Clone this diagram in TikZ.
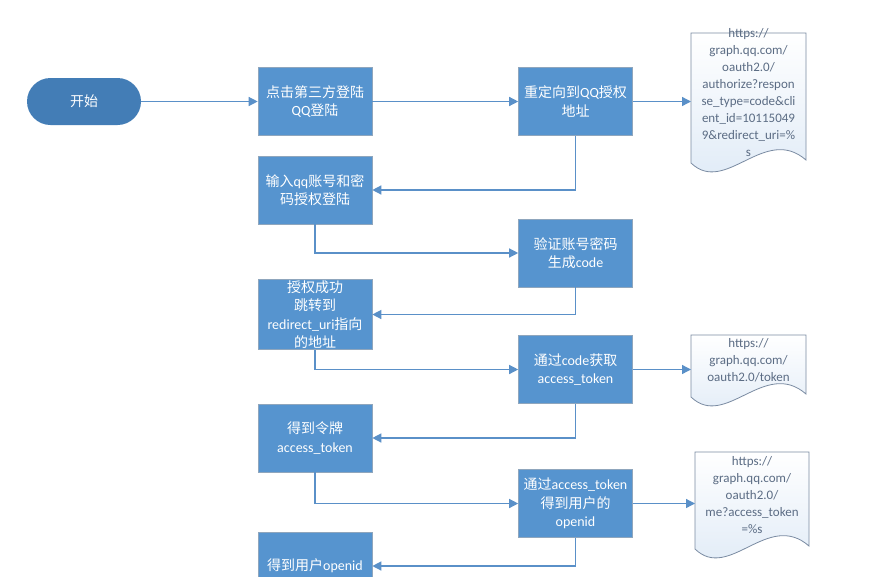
\documentclass[tikz,border=0pt]{standalone}
\usepackage{fontspec}
\setmainfont{Carlito}
\newfontfamily\zhfont{Noto Sans CJK SC}
\XeTeXinterchartokenstate=1
\newXeTeXintercharclass\zhclass
\makeatletter
\count@="4E00
\loop\ifnum\count@<"A000 \XeTeXcharclass\count@=\zhclass \advance\count@ by 1 \repeat
\makeatother
\XeTeXinterchartoks 0 \zhclass = {\zhfont}
\XeTeXinterchartoks 4095 \zhclass = {\zhfont}
\XeTeXinterchartoks \zhclass 0 = {\rmfamily}
\XeTeXinterchartoks \zhclass 4095 = {\rmfamily}
\usetikzlibrary{arrows.meta}
\definecolor{boxblue}{HTML}{5694CF}
\definecolor{boxedge}{HTML}{8FA6BD}
\definecolor{startblue}{HTML}{437DB6}
\definecolor{linkblue}{HTML}{5A90C8}
\definecolor{docblue}{HTML}{DDE9F6}
\definecolor{docedge}{HTML}{7A8BA2}
\definecolor{doctxt}{HTML}{5B6C84}
\newcommand{\mydoc}[5]{%
  \shade[top color=white, bottom color=docblue, draw=docedge, line width=0.8pt]
    (#1,#3) -- (#2,#3) -- (#2,#5)
    .. controls ({#1+0.64*(#2-#1)},{#5-36}) and ({#1+0.3*(#2-#1)},{#4+33}) .. (#1,#4) -- cycle;}
\begin{document}
\begin{tikzpicture}[x=1pt,y=-1pt,
  box/.style={draw=boxedge, line width=0.6pt, fill=boxblue, text=white,
    minimum width=114pt, minimum height=68pt, inner sep=1pt, align=center,
    font=\fontsize{14}{18.5}\selectfont},
  startbox/.style={fill=startblue, text=white, rounded corners=23.5pt,
    minimum width=114pt, minimum height=47pt, inner sep=1pt,
    font=\fontsize{14}{18.5}\selectfont},
  conn/.style={draw=linkblue, line width=1.3pt, -{Triangle[length=9pt,width=9pt]}},
  doctext/.style={text=doctxt, align=center, font=\fontsize{13}{17}\selectfont, inner sep=0pt}
]
\useasboundingbox (0,0) rectangle (882,576);
\clip (0,0) rectangle (882,576);
\fill[white] (0,0) rectangle (882,576);

% documents
\mydoc{691}{806}{33}{163}{160}
\mydoc{691}{806}{335}{397}{394}
\mydoc{695}{809}{452}{549}{546}
\node[doctext] (t1) at (748.5,92.5) {https://\\graph.qq.com/\\oauth2.0/\\authorize?respon\\se\_type=code\&cli\\ent\_id=10115049\\9\&redirect\_uri=\%\\s};
\node[doctext] (t2) at (748.5,360) {https://\\graph.qq.com/\\oauth2.0/token};
\node[doctext] (t3) at (752,495) {https://\\graph.qq.com/\\oauth2.0/\\me?access\_token\\=\%s};
\coordinate (d1) at (691,101.5);
\coordinate (d2) at (691,369.5);
\coordinate (d3) at (695,503.5);

% nodes
\node[startbox] (start) at (84,101.5) {开始};
\node[box] (b1) at (315,101.5) {点击第三方登陆\\QQ登陆};
\node[box] (b2) at (575.5,101.5) {重定向到QQ授权\\地址};
\node[box] (b3) at (315,190) {输入qq账号和密\\码授权登陆};
\node[box] (b4) at (575.5,253) {验证账号密码\\生成code};
\node[box] (b5) at (315,314.5) {授权成功\\跳转到\\redirect\_uri指向\\的地址};
\node[box] (b6) at (575.5,369.5) {通过code获取\\access\_token};
\node[box] (b7) at (315,438) {得到令牌\\access\_token};
\node[box] (b8) at (575.5,503.5) {通过access\_token\\得到用户的\\openid};
\node[box] (b9) at (315,566) {得到用户openid};

% connectors
\draw[conn] (start.east) -- (b1.west);
\draw[conn] (b1.east) -- (b2.west);
\draw[conn] (b2.east) -- (d1);
\draw[conn] (b2.south) |- (b3.east);
\draw[conn] (b3.south) |- (b4.west);
\draw[conn] (b4.south) |- (b5.east);
\draw[conn] (b5.south) |- (b6.west);
\draw[conn] (b6.east) -- (d2);
\draw[conn] (b6.south) |- (b7.east);
\draw[conn] (b7.south) |- (b8.west);
\draw[conn] (b8.east) -- (d3);
\draw[conn] (b8.south) |- (b9.east);
\end{tikzpicture}
\end{document}
